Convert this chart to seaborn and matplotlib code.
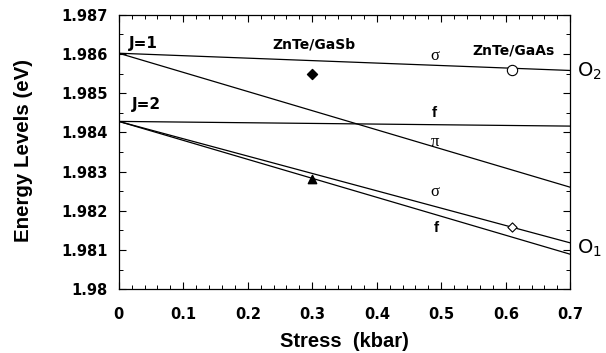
import matplotlib
matplotlib.use("Agg")
import matplotlib.pyplot as plt
import seaborn as sns
import numpy as np
import pandas as pd
from matplotlib.ticker import MultipleLocator

sns.set_theme(style="ticks")
plt.rcParams['font.family'] = ['DejaVu Sans']
plt.rcParams['text.color'] = 'black'
plt.rcParams['axes.labelcolor'] = 'black'
plt.rcParams['xtick.color'] = 'black'
plt.rcParams['ytick.color'] = 'black'

# Data
stress = [0.0, 0.7]
sigma_J1 = [1.98602, 1.98558]
pi_J1 = [1.98602, 1.98260]
f_J2 = [1.98428, 1.98416]
sigma_J2 = [1.98428, 1.98118]
f_low_J2 = [1.98428, 1.98089]

gasb_x = [0.30, 0.30]
gasb_y = [1.98549, 1.98281]
gaas_x = [0.61, 0.61]
gaas_y = [1.98559, 1.98159]

lines = {"sigma1": sigma_J1, "pi1": pi_J1, "f2": f_J2, "sigma2": sigma_J2, "f2low": f_low_J2}
rows = []
for k, v in lines.items():
    for x, y in zip(stress, v):
        rows.append({"line": k, "x": x, "y": y})
df = pd.DataFrame(rows)

fig = plt.figure(figsize=(6.06, 3.53), dpi=100)
ax = fig.add_axes([0.196, 0.181, 0.745, 0.777])

sns.lineplot(data=df, x="x", y="y", units="line", estimator=None, color="black",
             linewidth=0.9, ax=ax, legend=False)

ax.scatter([gasb_x[0]], [gasb_y[0]], marker="D", s=26, color="black", zorder=5)
ax.scatter([gasb_x[1]], [gasb_y[1]], marker="^", s=36, color="black", zorder=5)
ax.scatter([gaas_x[0]], [gaas_y[0]], marker="o", s=55, facecolor="white", edgecolor="black", linewidth=0.8, zorder=5)
ax.scatter([gaas_x[1]], [gaas_y[1]], marker="D", s=22, facecolor="white", edgecolor="black", linewidth=0.8, zorder=5)

ax.set_xlim(0, 0.7)
ax.set_ylim(1.980, 1.987)
ax.xaxis.set_minor_locator(MultipleLocator(0.02))
ax.yaxis.set_minor_locator(MultipleLocator(0.0005))
ax.set_xticks([0, 0.1, 0.2, 0.3, 0.4, 0.5, 0.6, 0.7])
ax.set_xticklabels(["0", "0.1", "0.2", "0.3", "0.4", "0.5", "0.6", "0.7"])
ax.set_yticks([1.980, 1.981, 1.982, 1.983, 1.984, 1.985, 1.986, 1.987])
ax.set_yticklabels(["1.98", "1.981", "1.982", "1.983", "1.984", "1.985", "1.986", "1.987"])
ax.tick_params(which="both", direction="in", top=True, right=True, color="black")
ax.tick_params(which="major", length=5, width=0.8, labelsize=10.5, pad=8)
ax.tick_params(axis="x", which="major", pad=13)
ax.tick_params(which="minor", length=3, width=0.7)
for lab in ax.get_xticklabels() + ax.get_yticklabels():
    lab.set_fontweight("bold")
for s in ax.spines.values():
    s.set_color("black")
    s.set_linewidth(0.9)

ax.set_xlabel("Stress  (kbar)", fontsize=14.5, fontweight="bold", family="Liberation Sans")
ax.set_ylabel("Energy Levels (eV)", fontsize=14.8, fontweight="bold", family="Liberation Sans")
ax.xaxis.set_label_coords(0.5, -0.158)
ax.yaxis.set_label_coords(-0.190, 0.504)

bold = dict(fontweight="bold", color="black")
ax.text(0.016, 1.98628, "J=1", fontsize=11, va="center", ha="left", **bold)
ax.text(0.020, 1.98470, "J=2", fontsize=11, va="center", ha="left", **bold)
ax.text(0.303, 1.98623, "ZnTe/GaSb", fontsize=10, va="center", ha="center", **bold)
ax.text(0.612, 1.98610, "ZnTe/GaAs", fontsize=10, va="center", ha="center", **bold)
ax.text(0.49, 1.98595, "σ", fontsize=12, va="center", ha="center", family="Liberation Serif")
ax.text(0.49, 1.98450, "f", fontsize=11, va="center", ha="center", fontweight="bold", family="Liberation Sans")
ax.text(0.49, 1.98376, "π", fontsize=12, va="center", ha="center", family="Liberation Serif")
ax.text(0.49, 1.98247, "σ", fontsize=12, va="center", ha="center", family="Liberation Serif")
ax.text(0.492, 1.98155, "f", fontsize=11, va="center", ha="center", fontweight="bold", family="Liberation Sans")
ax.text(0.71, 1.98557, "O$_2$", fontsize=14, va="center", ha="left")
ax.text(0.71, 1.98105, "O$_1$", fontsize=14, va="center", ha="left")

fig.savefig("out.png", dpi=100)
